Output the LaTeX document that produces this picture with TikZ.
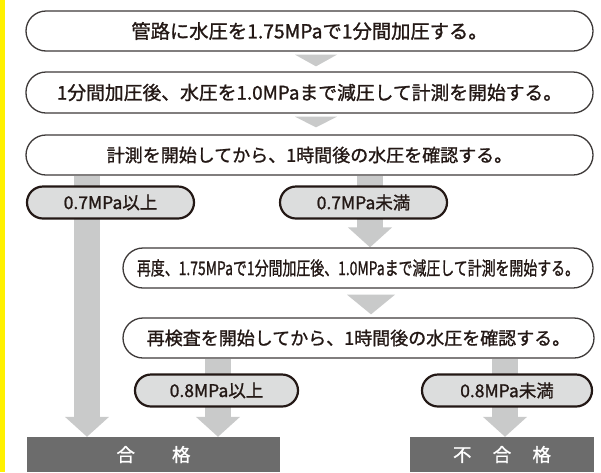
\documentclass[tikz,border=0pt]{standalone}
\usepackage{fontspec}
\newfontfamily\jp[FakeBold=1.2]{Noto Sans CJK JP}
\usetikzlibrary{arrows.meta,calc}
\definecolor{ygold}{RGB}{255,241,0}
\definecolor{agray}{RGB}{201,202,202}
\definecolor{pgray}{RGB}{220,221,221}
\definecolor{dgray}{RGB}{108,108,108}
\definecolor{edge}{RGB}{62,58,57}
\definecolor{pedge}{RGB}{35,24,21}
\definecolor{ink}{RGB}{35,24,21}
\pgfdeclarelayer{bg}
\pgfsetlayers{bg,main}
\begin{document}
\begin{tikzpicture}[x=1pt,y=-1pt,
 stepbox/.style={draw=edge, line width=1.3pt, fill=white, rounded corners=20pt, minimum height=40pt, inner sep=0pt, text=ink, font=\jp\fontsize{18.8}{19}\selectfont},
 pill/.style={draw=pedge, line width=2.2pt, fill=pgray, rounded corners=16pt, minimum height=32pt, inner sep=0pt, text=ink, font=\jp\fontsize{17.5}{18}\selectfont},
 result/.style={fill=dgray, text=white, minimum height=35pt, inner sep=0pt, font=\jp\fontsize{18.5}{19}\selectfont},
 bigarrow/.style={draw=agray, line width=26pt, -{Triangle[length=20pt,width=43pt]}},
 tri/.style={fill=agray}]
\useasboundingbox (0,0) rectangle (601,472);

\node[stepbox, minimum width=567pt, font=\jp\fontsize{19.3}{19}\selectfont] (b1) at (309.5,31) {管路に水圧を1.75MPaで1分間加圧する。};
\node[stepbox, minimum width=567pt, minimum height=41pt] (b2) at (309.5,92.5) {1分間加圧後、水圧を1.0MPaまで減圧して計測を開始する。};
\node[stepbox, minimum width=567pt, font=\jp\fontsize{18}{19}\selectfont] (b3) at (309.5,155) {計測を開始してから、1時間後の水圧を確認する。};
\node[pill, minimum width=167pt] (p1) at (110.5,202.5) {0.7MPa以上};
\node[pill, minimum width=167pt] (p2) at (363.5,202.5) {0.7MPa未満};
\node[stepbox, minimum width=470pt] (b4) at (358,268) {\scalebox{0.74}[1]{再度、1.75MPaで1分間加圧後、1.0MPaまで減圧して計測を開始する。}};
\node[stepbox, minimum width=471pt, font=\jp\fontsize{18}{19}\selectfont] (b5) at (358.5,338) {再検査を開始してから、1時間後の水圧を確認する。};
\node[pill, minimum width=163pt] (p3) at (216.5,390.5) {0.8MPa以上};
\node[pill, minimum width=170pt] (p4) at (507,390.5) {0.8MPa未満};
\node[result, minimum width=253pt] (pass) at (153.5,454.5) {合\hspace{2em}格};
\node[result, minimum width=184pt] (fail) at (502,454.5) {不\hspace{1.15em}合\hspace{1.15em}格};

\coordinate (cT) at (316,0);
\coordinate (cU) at (371,0);
\coordinate (colL) at (87,0);
\coordinate (colM) at (370,0);
\coordinate (colP) at (218,0);
\coordinate (colF) at (505,0);

\fill[tri] ($(b1.south -| cT)+(-21,3)$) -- ++(42,0) -- ($(b2.north -| cT)+(0,-5)$) -- cycle;
\fill[tri] ($(b2.south -| cT)+(-21,3)$) -- ++(42,0) -- ($(b3.north -| cT)+(0,-7)$) -- cycle;
\fill[tri] ($(b4.south -| cU)+(-24,6)$) -- ++(48,0) -- ($(b5.north -| cU)+(0,-3)$) -- cycle;

\begin{pgfonlayer}{bg}
\fill[white] (0,0) rectangle (601,472);
\fill[ygold] (0,0) rectangle (5,472);
\draw[bigarrow] (b3.south -| colL) -- (pass.north -| colL);
\draw[bigarrow] (b3.south -| colM) -- (b4.north -| colM);
\draw[bigarrow] (b5.south -| colP) -- (pass.north -| colP);
\draw[bigarrow] (b5.south -| colF) -- (fail.north -| colF);
\end{pgfonlayer}
\end{tikzpicture}
\end{document}
